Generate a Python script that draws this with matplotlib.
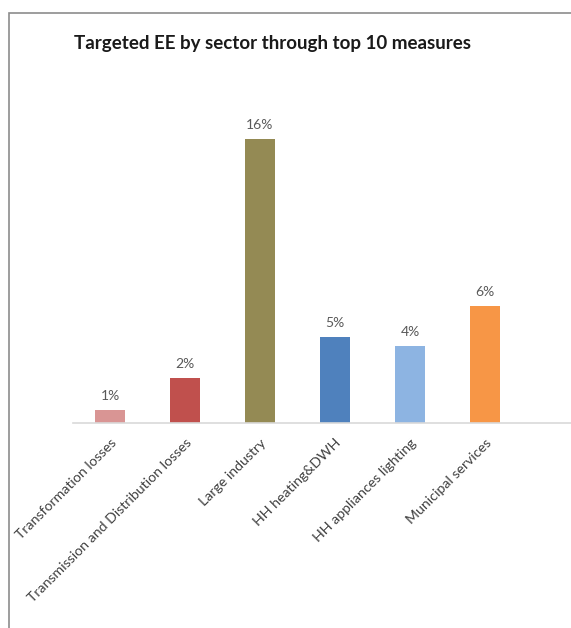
import matplotlib
matplotlib.use('Agg')
import matplotlib.pyplot as plt
from matplotlib.patches import Rectangle

# data (shares of targeted EE)
sectors = ['Transformation losses', 'Transmission and Distribution losses', 'Large industry',
           'HH heating&DWH', 'HH appliances lighting', 'Municipal services']
values = [0.0074, 0.0248, 0.156, 0.0472, 0.0423, 0.0643]
colors = ['#D99594', '#C0504D', '#948A54', '#4F81BD', '#8DB4E2', '#F79646']

plt.rcParams['font.family'] = ['Lato', 'DejaVu Sans']

W, H = 571, 628
fig = plt.figure(figsize=(W / 100, H / 100), dpi=100)

# outer chart frame (cut off at right and bottom)
fig.patches.append(Rectangle((9 / W, -0.1), 1.2, (H - 13) / H + 0.1, transform=fig.transFigure,
                             fill=False, edgecolor='#8C8C8C', linewidth=1.2))

ax = fig.add_axes([72.5 / W, (H - 423) / H, 1 - 72.5 / W, 323 / H])
x = range(len(sectors))
bars = ax.bar(x, values, width=0.41, color=colors)
ax.set_xlim(-0.5, (571 - 110) / 75)
ax.set_ylim(0, 0.1775)

for b, v in zip(bars, values):
    ax.text(b.get_x() + b.get_width() / 2, v + 0.0042, f'{v:.0%}', ha='center', va='bottom',
            fontsize=10, color='#595959')

for s in ['top', 'right', 'left']:
    ax.spines[s].set_visible(False)
ax.spines['bottom'].set_color('#D9D9D9')
ax.spines['bottom'].set_linewidth(1.2)
ax.set_yticks([])
ax.set_xticks(list(x))
ax.set_xticklabels(sectors, rotation=45, ha='right', rotation_mode='anchor',
                   fontsize=10.2, color='#404040')
ax.tick_params(axis='x', length=0, pad=10)

fig.text(272 / W, 1 - 43 / H, 'Targeted EE by sector through top 10 measures', ha='center',
         va='center', fontsize=13.5, fontweight='bold', color='#1A1A1A')

fig.savefig('out.png', dpi=100)
